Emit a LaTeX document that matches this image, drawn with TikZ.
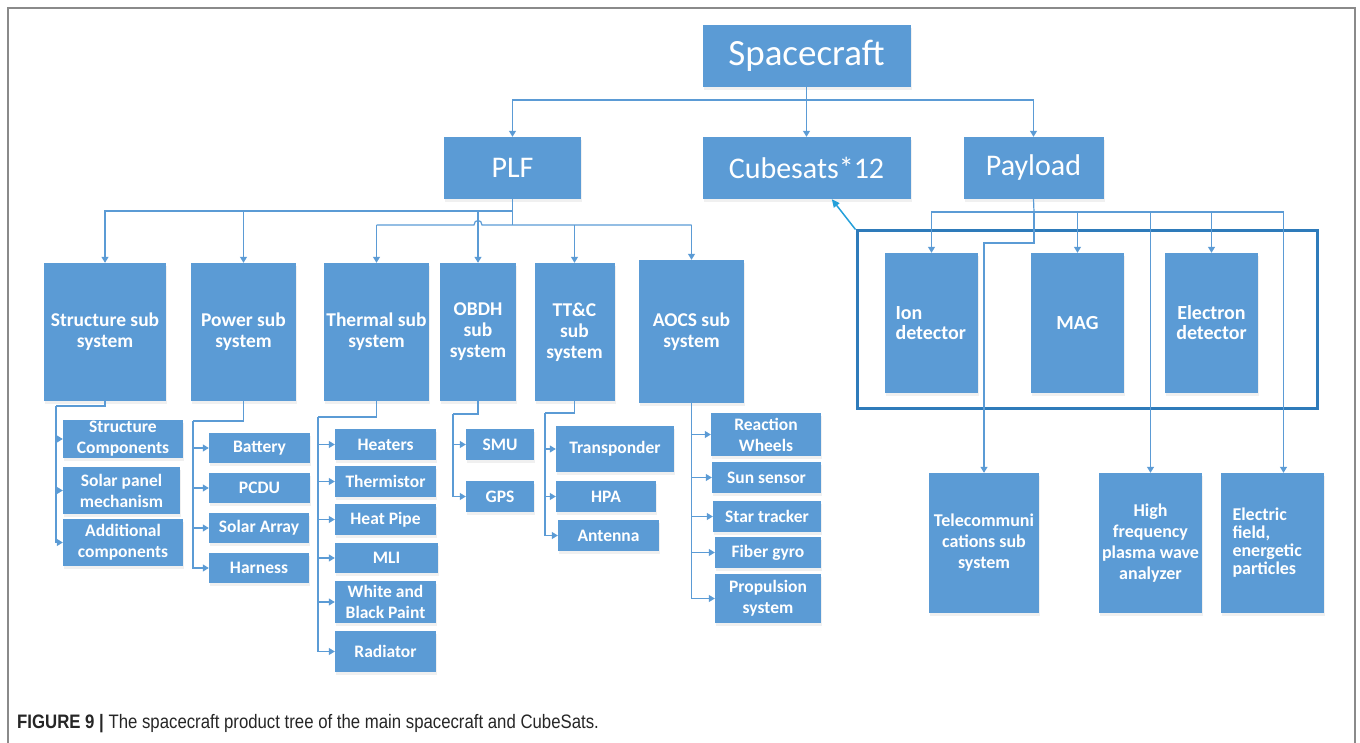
\documentclass[tikz,border=0pt]{standalone}
\usepackage{fontspec}
\setmainfont{Carlito}
\newfontfamily\capfont[FakeStretch=0.86]{Liberation Sans}
\usetikzlibrary{arrows.meta,shadows}
\definecolor{boxblue}{HTML}{5B9BD5}
\definecolor{lineblue}{HTML}{5B9BD5}
\definecolor{groupblue}{HTML}{2E7BBA}
\definecolor{cubearrow}{HTML}{25A0DA}
\definecolor{bordergray}{HTML}{8A8A8A}
\newcommand\subh{138}
\newcommand\leafh{31}
\newcommand\payh{140}

\begin{document}
\begin{tikzpicture}[
    x=1pt,y=-1pt,
    box/.style={fill=boxblue,text=white,inner sep=0pt,align=center,
      drop shadow={shadow xshift=1pt,shadow yshift=-3pt,opacity=0.12,fill=gray}},
    top/.style={box,font=\fontsize{37}{42}\selectfont},
    mid/.style={box,font=\fontsize{30}{34}\selectfont},
    sub/.style={box,font=\bfseries\fontsize{19.5}{21}\selectfont},
    leaf/.style={box,font=\bfseries\fontsize{17.5}{21}\selectfont},
    pay/.style={box,font=\bfseries\fontsize{20}{20}\selectfont},
    link/.style={draw=lineblue,line width=1.2pt},
    arr/.style={link,-{Triangle[length=6pt,width=7pt]}},
    grp/.style={draw=groupblue,line width=3pt,inner sep=0pt}
  ]
    \useasboundingbox (0,0) rectangle (1360,743);
    \draw[bordergray,line width=2pt] (8,745) -- (8,8) -- (1355,8) -- (1355,745);

    % top levels
    \node[top,minimum width=208,minimum height=62] (craft) at (806.5,56) {Spacecraft};
    \node[mid,minimum width=137,minimum height=62] (plf) at (512.5,168) {PLF};
    \node[mid,minimum width=208,minimum height=62] (cube) at (806.5,168) {Cubesats*12};
    \node[mid,minimum width=140,minimum height=62] (payload) at (1033.5,168) {Payload};

    \coordinate (craftbus) at (806.5,100);
    \draw[link] (craft.south) -- (craftbus);
    \draw[arr] (craftbus) -- (cube.north);
    \draw[arr] (craftbus) -| (plf.north);
    \draw[arr] (craftbus) -| (payload.north);

    % PLF sub systems
    \node[sub,minimum width=122,minimum height=\subh] (struct) at (105,332) {Structure sub\\system};
    \node[sub,minimum width=105,minimum height=\subh] (power) at (243.5,332) {Power sub\\system};
    \node[sub,minimum width=105,minimum height=\subh] (thermal) at (376.5,332) {Thermal sub\\system};
    \node[sub,minimum width=76,minimum height=\subh] (obdh) at (478,332) {OBDH\\sub\\system};
    \node[sub,minimum width=80,minimum height=\subh] (ttc) at (574.5,332) {TT\&C\\sub\\system};
    \node[sub,minimum width=105,minimum height=143] (aocs) at (691.5,331.5) {AOCS sub\\system};

    \coordinate (plfbusa) at (512.5,211);
    \coordinate (plfbusb) at (512.5,225);
    \draw[link] (plf.south) -- (plfbusb);
    \draw[arr] (plfbusa) -| (struct.north);
    \draw[arr] (plfbusa) -| (power.north);
    \draw[arr] (plfbusa) -| (obdh.north);
    \draw[link] (thermal.north |- plfbusb) -- (474,225)
      .. controls (474,219) and (482,219) .. (482,225) -- (aocs.north |- plfbusb);
    \foreach \s in {thermal,ttc,aocs}
      \draw[arr] (\s.north |- plfbusb) -- (\s.north);

    % structure
    \node[leaf,minimum width=120,minimum height=38] (stcomp) at (123,439) {Structure\\Components};
    \node[leaf,minimum width=117,minimum height=47] (stsolar) at (121.5,490.5) {Solar panel\\mechanism};
    \node[leaf,minimum width=120,minimum height=47] (stadd) at (123,542.5) {Additional\\components};
    \coordinate (sttrunk) at (56,406);
    \draw[link] (struct.south) |- (sttrunk);
    \foreach \c in {stcomp,stsolar,stadd}
      \draw[arr] (sttrunk) |- (\c.west);

    % power
    \node[leaf,minimum width=101,minimum height=30] (battery) at (259.5,448) {Battery};
    \node[leaf,minimum width=101,minimum height=30] (pcdu) at (259.5,488) {PCDU};
    \node[leaf,minimum width=100,minimum height=30] (solar) at (259,528) {Solar Array};
    \node[leaf,minimum width=100,minimum height=30] (harness) at (259,568) {Harness};
    \coordinate (pwtrunk) at (193,421);
    \draw[link] (power.south) |- (pwtrunk);
    \foreach \c in {battery,pcdu,solar,harness}
      \draw[arr] (pwtrunk) |- (\c.west);

    % thermal
    \node[leaf,minimum width=101,minimum height=\leafh] (heaters) at (385.5,444.5) {Heaters};
    \node[leaf,minimum width=101,minimum height=\leafh] (thermistor) at (385.5,481.5) {Thermistor};
    \node[leaf,minimum width=101,minimum height=\leafh] (heatpipe) at (385.5,519.5) {Heat Pipe};
    \node[leaf,minimum width=103,minimum height=30] (mli) at (386.5,558) {MLI};
    \node[leaf,minimum width=101,minimum height=42] (paint) at (385.5,602) {White and\\Black Paint};
    \node[leaf,minimum width=101,minimum height=41] (radiator) at (385.5,651.5) {Radiator};
    \coordinate (thtrunk) at (318,417);
    \draw[link] (thermal.south) |- (thtrunk);
    \foreach \c in {heaters,thermistor,heatpipe,mli,paint,radiator}
      \draw[arr] (thtrunk) |- (\c.west);

    % OBDH
    \node[leaf,minimum width=68,minimum height=\leafh] (smu) at (500,444.5) {SMU};
    \node[leaf,minimum width=68,minimum height=\leafh] (gps) at (500,496.5) {GPS};
    \coordinate (obtrunk) at (453,414);
    \draw[link] (obdh.south) |- (obtrunk);
    \foreach \c in {smu,gps}
      \draw[arr] (obtrunk) |- (\c.west);

    % TT&C
    \node[leaf,minimum width=118,minimum height=46] (transponder) at (615,449) {Transponder};
    \node[leaf,minimum width=100,minimum height=\leafh] (hpa) at (606,496.5) {HPA};
    \node[leaf,minimum width=101,minimum height=\leafh] (antenna) at (608.5,535.5) {Antenna};
    \coordinate (tctrunk) at (545,413);
    \draw[link] (ttc.south) |- (tctrunk);
    \foreach \c in {transponder,hpa,antenna}
      \draw[arr] (tctrunk) |- (\c.west);

    % AOCS
    \node[leaf,minimum width=110,minimum height=43] (wheels) at (766,434.5) {Reaction\\Wheels};
    \node[leaf,minimum width=109,minimum height=\leafh] (sun) at (766.5,477.5) {Sun sensor};
    \node[leaf,minimum width=108,minimum height=\leafh] (star) at (767,516.5) {Star tracker};
    \node[leaf,minimum width=106,minimum height=\leafh] (gyro) at (768,552.5) {Fiber gyro};
    \node[leaf,minimum width=106,minimum height=49] (propulsion) at (768,598.5) {Propulsion\\system};
    \foreach \c in {wheels,sun,star,gyro,propulsion}
      \draw[arr] (aocs.south) |- (\c.west);

    % payload
    \node[grp,minimum width=460,minimum height=177] (instr) at (1087,319.5) {};
    \node[pay,minimum width=93,minimum height=\payh,text width=72,align=left] (ion) at (931.5,323) {Ion\\detector};
    \node[pay,minimum width=93,minimum height=\payh] (mag) at (1077.5,323) {MAG};
    \node[pay,minimum width=93,minimum height=\payh] (electron) at (1211.5,323) {Electron\\detector};
    \node[pay,minimum width=110,minimum height=\payh,font=\bfseries\fontsize{18}{21}\selectfont] (telecom) at (984,543) {Telecommuni\\cations sub\\system};
    \node[pay,minimum width=103,minimum height=\payh,font=\bfseries\fontsize{18}{21}\selectfont] (plasma) at (1150.5,543) {High\\frequency\\plasma wave\\analyzer};
    \node[pay,minimum width=103,minimum height=\payh,text width=80,align=left,font=\bfseries\fontsize{18}{18}\selectfont] (efield) at (1272.5,543) {Electric\\field,\\energetic\\particles};

    \coordinate (paybus) at (1034,212);
    \draw[link] (payload.south) -- (paybus);
    \foreach \c in {ion,mag,electron,plasma}
      \draw[arr] (paybus) -| (\c.north);
    \draw[arr] (paybus) -| ([xshift=11pt]efield.north);
    \draw[arr] (paybus) -- (1034,243) -| (telecom.north);

    \draw[cubearrow,line width=1.5pt,-{Triangle[length=8pt,width=7pt]}]
      (instr.north west) -- ([xshift=129.5pt]cube.south west);

    % caption
    \node[anchor=west,inner sep=0pt,text=black!85,font=\capfont\fontsize{19.5}{22}\selectfont] (caption)
      at (17,724) {\textbf{FIGURE 9 |} The spacecraft product tree of the main spacecraft and CubeSats.};
  \end{tikzpicture}
\end{document}
